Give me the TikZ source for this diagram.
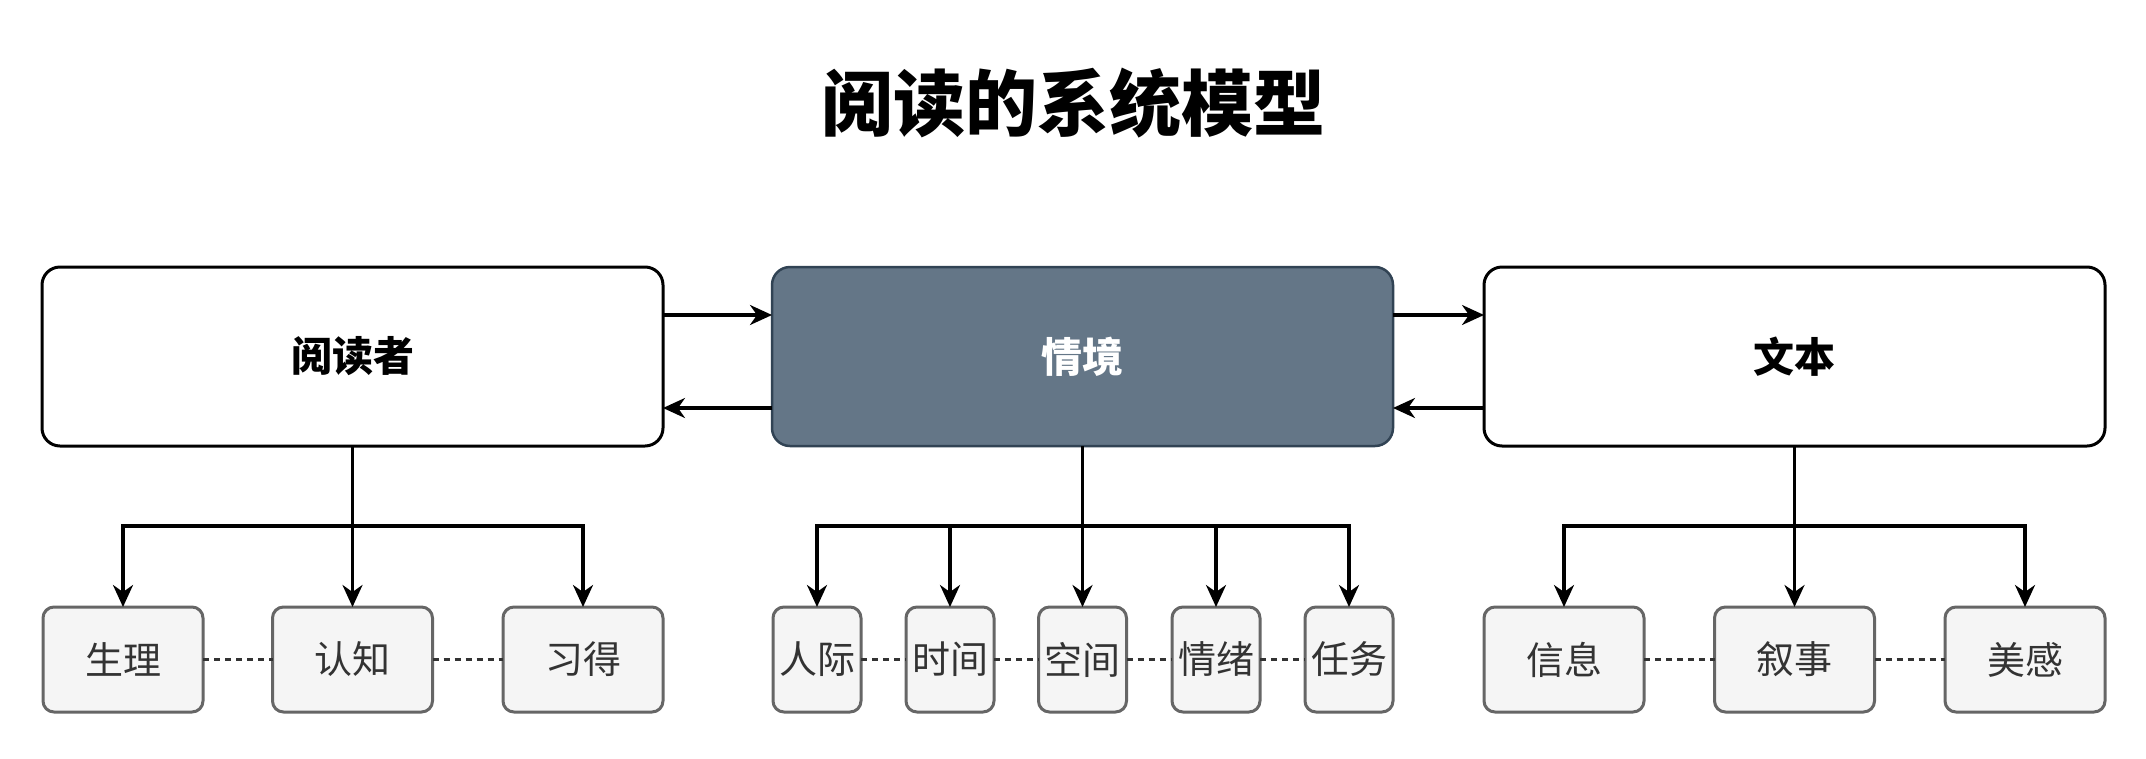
\documentclass[tikz,border=0pt]{standalone}
\usepackage{fontspec}
\setmainfont{Noto Sans CJK SC}
\newfontfamily\cjk{Noto Sans CJK SC}
\usetikzlibrary{arrows.meta}
\definecolor{sitfill}{HTML}{647687}
\definecolor{sitdraw}{HTML}{314354}
\definecolor{smallfill}{HTML}{F5F5F5}
\definecolor{smalldraw}{HTML}{666666}
\definecolor{smalltext}{HTML}{333333}
\begin{document}
\begin{tikzpicture}[x=1pt,y=-1pt,
  mainbox/.style={draw=black, fill=white, line width=3pt, rounded corners=18pt,
    minimum width=621pt, minimum height=179pt, inner sep=0pt, outer sep=0pt,
    font=\cjk\bfseries\fontsize{41pt}{48pt}\selectfont},
  sitbox/.style={mainbox, draw=sitdraw, fill=sitfill, line width=2.5pt, text=white},
  widebox/.style={draw=smalldraw, fill=smallfill, line width=3pt, rounded corners=11pt,
    minimum width=160pt, minimum height=105pt, inner sep=0pt, outer sep=0pt, text=smalltext,
    font=\cjk\fontsize{38pt}{44pt}\selectfont},
  narrowbox/.style={widebox, minimum width=88pt},
  arr/.style={draw=black, line width=3.2pt, -{Stealth[length=22pt,width=20pt,inset=7pt]}},
  link/.style={draw=smalltext, line width=2.2pt, dash pattern=on 6pt off 5pt},
  titletext/.style={font=\cjk\bfseries\fontsize{72pt}{84pt}\selectfont, inner sep=0pt}
]
\fill[white] (0,0) rectangle (2146,758);
\path[use as bounding box] (0,0) rectangle (2146,758);

\node[titletext] (title) at (1073,103) {阅读的系统模型};

\node[mainbox] (reader) at (352.5,356.5) {阅读者};
\node[sitbox] (sit) at (1082.5,356.5) {情境};
\node[mainbox] (text) at (1794.5,356.5) {文本};

% reader children
\node[widebox] (r1) at (123,659.5) {生理};
\node[widebox] (r2) at (352.5,659.5) {认知};
\node[widebox] (r3) at (583,659.5) {习得};
% situation children
\node[narrowbox] (s1) at (817,659.5) {人际};
\node[narrowbox] (s2) at (950,659.5) {时间};
\node[narrowbox] (s3) at (1082.5,659.5) {空间};
\node[narrowbox] (s4) at (1216,659.5) {情绪};
\node[narrowbox] (s5) at (1349,659.5) {任务};
% text children
\node[widebox] (t1) at (1564,659.5) {信息};
\node[widebox] (t2) at (1794.5,659.5) {叙事};
\node[widebox] (t3) at (2025,659.5) {美感};

% horizontal arrows between main boxes
\draw[arr] (reader.east |- 0,315) -- (sit.west |- 0,315);
\draw[arr] (sit.west |- 0,408) -- (reader.east |- 0,408);
\draw[arr] (sit.east |- 0,315) -- (text.west |- 0,315);
\draw[arr] (text.west |- 0,408) -- (sit.east |- 0,408);

% tree connectors
\coordinate (rj) at (reader.south |- 0,526);
\coordinate (sj) at (sit.south |- 0,526);
\coordinate (tj) at (text.south |- 0,526);
\draw[arr] (reader.south) -- (r2.north);
\draw[arr] (rj) -| (r1.north);
\draw[arr] (rj) -| (r3.north);
\draw[arr] (sit.south) -- (s3.north);
\draw[arr] (sj) -| (s1.north);
\draw[arr] (sj) -| (s2.north);
\draw[arr] (sj) -| (s4.north);
\draw[arr] (sj) -| (s5.north);
\draw[arr] (text.south) -- (t2.north);
\draw[arr] (tj) -| (t1.north);
\draw[arr] (tj) -| (t3.north);

% dotted links
\draw[link] (r1.east) -- (r2.west);
\draw[link] (r2.east) -- (r3.west);
\draw[link] (s1.east) -- (s2.west);
\draw[link] (s2.east) -- (s3.west);
\draw[link] (s3.east) -- (s4.west);
\draw[link] (s4.east) -- (s5.west);
\draw[link] (t1.east) -- (t2.west);
\draw[link] (t2.east) -- (t3.west);
\end{tikzpicture}
\end{document}
